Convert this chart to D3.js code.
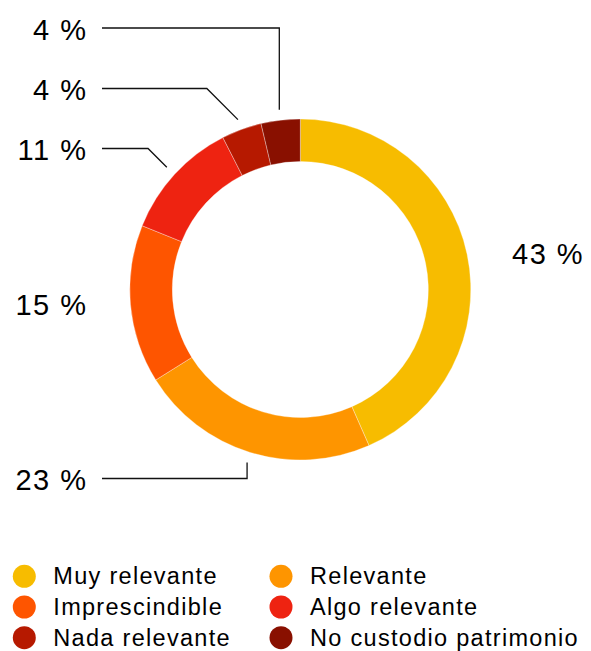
<!DOCTYPE html>
<html><head><meta charset="utf-8">
<script src="https://cdn.jsdelivr.net/npm/d3@7"></script>
<style>body{margin:0;background:#fff;} svg{display:block;}</style>
</head><body><svg id="chart" width="591" height="651"></svg>
<script>
// ---- data ----
const categories = ["Muy relevante","Relevante","Imprescindible","Algo relevante","Nada relevante","No custodio patrimonio"];
const values = [43.4, 22.7, 15.0, 11.4, 3.8, 3.7];
const valueLabels = ["43 %","23 %","15 %","11 %","4 %","4 %"];
const colors = ["#F7BC00","#FE9500","#FE5500","#EE2311","#B61900","#891000"];

// ---- layout ----
const cx = 300.3, cy = 289.5, rOuter = 170.5, rInner = 128, rLeader = 181;
const labelLayout = [
  {side:"right", baseline:263.5, leader:null},
  {side:"left",  baseline:490,   leader:"vertical"},
  {side:"left",  baseline:315,   leader:null},
  {side:"left",  baseline:160,   leader:"diagonal"},
  {side:"left",  baseline:100,   leader:"diagonal"},
  {side:"left",  baseline:39.5,  leader:"vertical"}
];
const font = "'Liberation Sans', Arial, Helvetica, sans-serif";

const svg = d3.select("#chart");
const pie = d3.pie().sort(null).value(d => d);
const arcs = pie(values);
const arc = d3.arc().innerRadius(rInner).outerRadius(rOuter);
const color = d3.scaleOrdinal().domain(categories).range(colors);

const g = svg.append("g").attr("transform", `translate(${cx},${cy})`);
g.selectAll("path.slice").data(arcs).enter().append("path")
  .attr("class","slice")
  .attr("d", arc)
  .attr("fill", (d,i) => color(categories[i]))
  .attr("stroke", "rgba(255,255,255,0.55)")
  .attr("stroke-width", 0.6);

// labels + leaders
const lineX = 102;
arcs.forEach((d,i) => {
  const L = labelLayout[i];
  const a = (d.startAngle + d.endAngle) / 2;
  const px = cx + rLeader * Math.sin(a), py = cy - rLeader * Math.cos(a);
  const ly = L.baseline - 11.5;
  if (L.leader) {
    let pts;
    if (L.leader === "vertical") pts = [[px,py],[px,ly],[lineX,ly]];
    else pts = [[px,py],[px - Math.abs(py - ly), ly],[lineX,ly]];
    svg.append("path").attr("d", d3.line()(pts))
      .attr("fill","none").attr("stroke","#111").attr("stroke-width",1.3);
  }
  svg.append("text")
    .attr("x", L.side === "left" ? 87.5 : 512)
    .attr("y", L.baseline)
    .attr("text-anchor", L.side === "left" ? "end" : "start")
    .attr("font-family", font).attr("font-size", 29)
    .attr("letter-spacing", "1.5px")
    .attr("fill", "#000")
    .text(valueLabels[i]);
});

// legend
const leg = svg.append("g");
categories.forEach((c,i) => {
  const col = i % 2, row = Math.floor(i / 2);
  const x = col ? 281 : 24.3, y = 576.3 + row * 30.7;
  leg.append("circle").attr("cx", x).attr("cy", y).attr("r", 11.5).attr("fill", color(c));
  leg.append("text").attr("x", x + 29).attr("y", y + 8)
    .attr("font-family", font).attr("font-size", 23.5)
    .attr("letter-spacing", "1.3px")
    .attr("fill", "#000").text(c);
});
</script></body></html>
